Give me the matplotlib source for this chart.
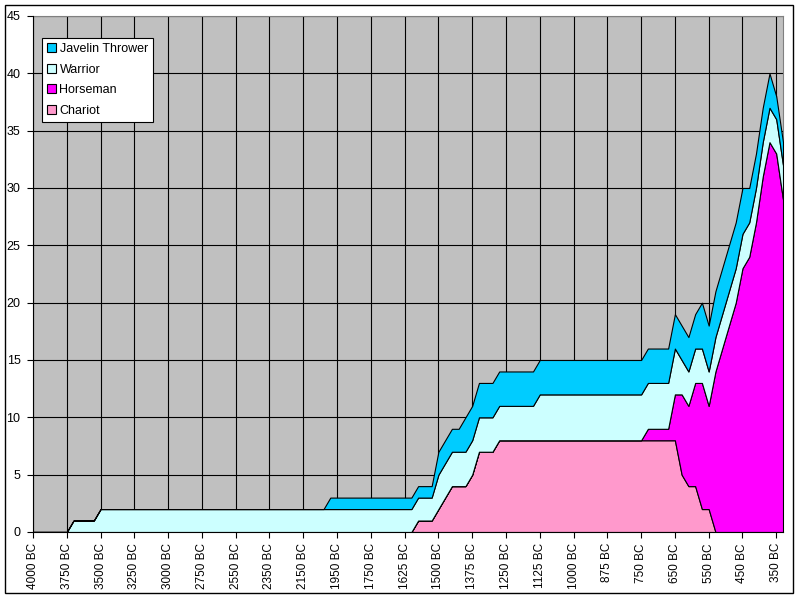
import matplotlib
matplotlib.use("Agg")
import matplotlib.pyplot as plt
from matplotlib.patches import Rectangle, Patch

plt.rcParams['font.family'] = ['Liberation Sans', 'DejaVu Sans']

# Turn years (BC), one per game turn
years = [4000, 3950, 3900, 3850, 3800, 3750, 3700, 3650, 3600, 3550,
         3500, 3450, 3400, 3350, 3300, 3250, 3200, 3150, 3100, 3050,
         3000, 2950, 2900, 2850, 2800, 2750, 2710, 2670, 2630, 2590,
         2550, 2510, 2470, 2430, 2390, 2350, 2310, 2270, 2230, 2190,
         2150, 2110, 2070, 2030, 1990, 1950, 1910, 1870, 1830, 1790,
         1750, 1725, 1700, 1675, 1650, 1625, 1600, 1575, 1550, 1525,
         1500, 1475, 1450, 1425, 1400, 1375, 1350, 1325, 1300, 1275,
         1250, 1225, 1200, 1175, 1150, 1125, 1100, 1075, 1050, 1025,
         1000, 975, 950, 925, 900, 875, 850, 825, 800, 775,
         750, 730, 710, 690, 670, 650, 630, 610, 590, 570,
         550, 530, 510, 490, 470, 450, 430, 410, 390, 370,
         350, 330]

chariot = [0, 0, 0, 0, 0, 0, 0, 0, 0, 0,
           0, 0, 0, 0, 0, 0, 0, 0, 0, 0,
           0, 0, 0, 0, 0, 0, 0, 0, 0, 0,
           0, 0, 0, 0, 0, 0, 0, 0, 0, 0,
           0, 0, 0, 0, 0, 0, 0, 0, 0, 0,
           0, 0, 0, 0, 0, 0, 0, 1, 1, 1,
           2, 3, 4, 4, 4, 5, 7, 7, 7, 8,
           8, 8, 8, 8, 8, 8, 8, 8, 8, 8,
           8, 8, 8, 8, 8, 8, 8, 8, 8, 8,
           8, 8, 8, 8, 8, 8, 5, 4, 4, 2,
           2, 0, 0, 0, 0, 0, 0, 0, 0, 0,
           0, 0]

horseman = [0, 0, 0, 0, 0, 0, 0, 0, 0, 0,
            0, 0, 0, 0, 0, 0, 0, 0, 0, 0,
            0, 0, 0, 0, 0, 0, 0, 0, 0, 0,
            0, 0, 0, 0, 0, 0, 0, 0, 0, 0,
            0, 0, 0, 0, 0, 0, 0, 0, 0, 0,
            0, 0, 0, 0, 0, 0, 0, 0, 0, 0,
            0, 0, 0, 0, 0, 0, 0, 0, 0, 0,
            0, 0, 0, 0, 0, 0, 0, 0, 0, 0,
            0, 0, 0, 0, 0, 0, 0, 0, 0, 0,
            0, 1, 1, 1, 1, 4, 7, 7, 9, 11,
            9, 14, 16, 18, 20, 23, 24, 27, 31, 34,
            33, 29]

warrior = [0, 0, 0, 0, 0, 0, 1, 1, 1, 1,
           2, 2, 2, 2, 2, 2, 2, 2, 2, 2,
           2, 2, 2, 2, 2, 2, 2, 2, 2, 2,
           2, 2, 2, 2, 2, 2, 2, 2, 2, 2,
           2, 2, 2, 2, 2, 2, 2, 2, 2, 2,
           2, 2, 2, 2, 2, 2, 2, 2, 2, 2,
           3, 3, 3, 3, 3, 3, 3, 3, 3, 3,
           3, 3, 3, 3, 3, 4, 4, 4, 4, 4,
           4, 4, 4, 4, 4, 4, 4, 4, 4, 4,
           4, 4, 4, 4, 4, 4, 3, 3, 3, 3,
           3, 3, 3, 3, 3, 3, 3, 3, 3, 3,
           3, 3]

javelin = [0, 0, 0, 0, 0, 0, 0, 0, 0, 0,
           0, 0, 0, 0, 0, 0, 0, 0, 0, 0,
           0, 0, 0, 0, 0, 0, 0, 0, 0, 0,
           0, 0, 0, 0, 0, 0, 0, 0, 0, 0,
           0, 0, 0, 0, 1, 1, 1, 1, 1, 1,
           1, 1, 1, 1, 1, 1, 1, 1, 1, 1,
           2, 2, 2, 2, 3, 3, 3, 3, 3, 3,
           3, 3, 3, 3, 3, 3, 3, 3, 3, 3,
           3, 3, 3, 3, 3, 3, 3, 3, 3, 3,
           3, 3, 3, 3, 3, 3, 3, 3, 3, 4,
           4, 4, 4, 4, 4, 4, 3, 3, 3, 3,
           2, 2]

series_names = ["Chariot", "Horseman", "Warrior", "Javelin Thrower"]
series_colors = ["#FF99CC", "#FF00FF", "#CCFFFF", "#00CCFF"]

labels = [f"{y} BC" for y in years]
x = list(range(len(years)))

fig = plt.figure(figsize=(8, 6), dpi=100)
fig.patch.set_facecolor("white")
ax = fig.add_axes([33 / 800, 68 / 600, 750 / 800, 516 / 600])
ax.set_facecolor("#C0C0C0")

ax.stackplot(x, chariot, horseman, warrior, javelin,
             colors=series_colors, edgecolor="black", linewidth=0.8,
             zorder=3)

ax.set_xlim(0, len(years) - 1)
ax.set_ylim(0, 45)
ax.set_yticks(range(0, 46, 5))
tick_pos = x[::5]
ax.set_xticks(tick_pos)
ax.set_xticklabels([labels[i] for i in tick_pos], rotation=90, fontsize=8.5)
ax.tick_params(axis="y", labelsize=9, direction="out", length=4, width=0.8,
               pad=5, colors="black")
ax.tick_params(axis="x", direction="out", length=4, width=0.8, pad=4)

ax.grid(True, color="black", linewidth=0.8, zorder=1)
ax.set_axisbelow(True)

for side in ["top", "right"]:
    ax.spines[side].set_color("#808080")
    ax.spines[side].set_linewidth(0.8)
for side in ["left", "bottom"]:
    ax.spines[side].set_color("black")
    ax.spines[side].set_linewidth(0.8)
    ax.spines[side].set_zorder(5)

handles = [Patch(facecolor=c, edgecolor="black", linewidth=0.8, label=n)
           for n, c in zip(series_names, series_colors)][::-1]
leg = ax.legend(handles=handles, loc="upper left",
                bbox_to_anchor=(0.012, 0.957), fontsize=9,
                frameon=True, fancybox=False, shadow=False,
                handlelength=0.7, handleheight=0.7, handletextpad=0.3,
                labelspacing=0.68, borderpad=0.4, borderaxespad=0.0)
leg.get_frame().set_edgecolor("black")
leg.get_frame().set_linewidth(0.8)
leg.get_frame().set_facecolor("white")
leg.get_frame().set_alpha(1)
leg.set_zorder(10)

fig.patches.append(Rectangle((5 / 800, 7 / 600), 788 / 800, 588 / 600,
                             transform=fig.transFigure, fill=False,
                             edgecolor="black", linewidth=1.0))

fig.savefig("out.png", dpi=100)
